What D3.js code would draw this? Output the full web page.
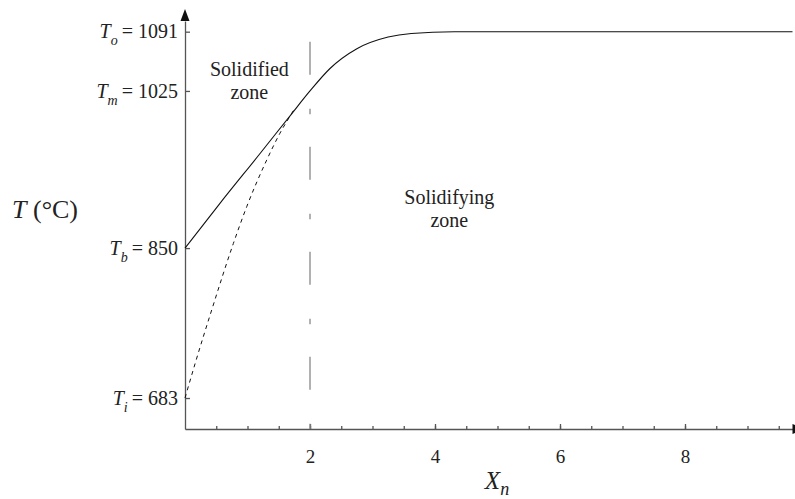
<!DOCTYPE html>
<html>
<head>
<meta charset="utf-8">
<script src="https://cdn.jsdelivr.net/npm/d3@7"></script>
<style>
  html, body { margin: 0; padding: 0; background: #fff; }
</style>
</head>
<body>
<svg id="chart" width="795" height="499"></svg>
<script>
// Temperature profile across the solidified / solidifying zones
const solidX = [0, 0.55, 1.22, 1.7, 2.0, 2.32, 2.75, 3.25, 3.62, 4.31, 9.72];
const solidT = [850, 899, 957, 999, 1025, 1050, 1072, 1085, 1089, 1091, 1091];

const dashX = [0, 0.16, 0.427, 0.773, 0.987, 1.307, 1.52, 1.707, 1.75];
const dashT = [683, 721, 781, 855, 896, 948, 978, 1000, 1005];

// Named temperature levels on the vertical axis
const levelNames = ["o", "m", "b", "i"];
const levelValues = [1091, 1025, 850, 683];

const xMajorTicks = [2, 4, 6, 8];
const xMinorTicks = d3.range(0.5, 9.6, 0.5);
const interfaceX = 2;

const zoneLabels = [
  { lines: ["Solidified", "zone"], x: 1.03, t: 1041.5 },
  { lines: ["Solidifying", "zone"], x: 4.23, t: 899 }
];

const FONT = "Liberation Serif";
const svg = d3.select("#chart");

const x = d3.scaleLinear().domain([0, 9.72]).range([185, 792.5]);
const y = d3.scaleLinear().domain([648.5, 1102.9]).range([429, 21]);

const axisColor = "#555";

// x axis: minor ticks, then major ticks with labels
const gxMinor = svg.append("g").attr("transform", `translate(0,${y.range()[0]})`)
  .call(d3.axisBottom(x).tickValues(xMinorTicks).tickSizeInner(-3).tickSizeOuter(0).tickFormat(""));
const gxMajor = svg.append("g").attr("transform", `translate(0,${y.range()[0]})`)
  .call(d3.axisBottom(x).tickValues(xMajorTicks).tickSizeInner(-5).tickSizeOuter(0).tickPadding(21).tickFormat(d3.format("d")));
gxMajor.select(".domain").remove();
[gxMinor, gxMajor].forEach(g => {
  g.selectAll("path, line").attr("stroke", axisColor).attr("stroke-width", 1.3);
  g.selectAll("text").style("font-family", FONT).style("font-size", "19px").attr("fill", "#222");
});

// y axis with inward ticks at the named levels
const gy = svg.append("g").attr("transform", `translate(${x.range()[0]},0)`)
  .call(d3.axisLeft(y).tickValues(levelValues).tickSizeInner(-5).tickSizeOuter(0).tickFormat(""));
gy.selectAll("path, line").attr("stroke", axisColor).attr("stroke-width", 1.3);

// Arrowheads at the axis ends
const yTop = y.range()[1];
svg.append("path")
  .attr("d", `M${x(0)},${yTop - 12} L${x(0) - 4.5},${yTop} L${x(0) + 4.5},${yTop} Z`)
  .attr("fill", "#111");
const xEnd = x.range()[1];
svg.append("path")
  .attr("d", `M${xEnd + 12},${y.range()[0]} L${xEnd},${y.range()[0] - 5} L${xEnd},${y.range()[0] + 5} Z`)
  .attr("fill", "#111");

// Level labels: T with subscript = value
levelValues.forEach((v, i) => {
  const t = svg.append("text").style("font-family", FONT).style("font-size", "20px")
    .attr("fill", "#222").attr("x", 178).attr("y", y(v) + 6.8).attr("text-anchor", "end");
  t.append("tspan").attr("font-style", "italic").text("T");
  t.append("tspan").attr("font-style", "italic").style("font-size", "14px").attr("dy", 7).text(levelNames[i]);
  t.append("tspan").attr("dy", -7).text("\u2009= " + v);
});

// Axis titles
const yTitle = svg.append("text").style("font-family", FONT).style("font-size", "26px")
  .attr("x", 12).attr("y", 218).attr("fill", "#222");
yTitle.append("tspan").attr("font-style", "italic").text("T");
yTitle.append("tspan").text(" (°C)");

const xTitle = svg.append("text").style("font-family", FONT).style("font-size", "25px")
  .attr("x", 497).attr("y", 489).attr("text-anchor", "middle").attr("fill", "#222");
xTitle.append("tspan").attr("font-style", "italic").text("X");
xTitle.append("tspan").attr("font-style", "italic").style("font-size", "18px").attr("dy", 6).text("n");

// Solid–liquid interface marker
svg.append("line")
  .attr("x1", x(interfaceX)).attr("x2", x(interfaceX))
  .attr("y1", 41.7).attr("y2", y.range()[0])
  .attr("stroke", "#888").attr("stroke-width", 1.3)
  .attr("stroke-dasharray", "33,34,5.5,32.5");

// Temperature curves
const line = d3.line().x(d => x(d[0])).y(d => y(d[1])).curve(d3.curveMonotoneX);
svg.append("path")
  .datum(solidX.map((v, i) => [v, solidT[i]]))
  .attr("d", line).attr("fill", "none").attr("stroke", "#111").attr("stroke-width", 1.1);
svg.append("path")
  .datum(dashX.map((v, i) => [v, dashT[i]]))
  .attr("d", line).attr("fill", "none").attr("stroke", "#111").attr("stroke-width", 1)
  .attr("stroke-dasharray", "4,4");

// Zone captions, one text per line
zoneLabels.forEach(z => {
  z.lines.forEach((s, i) => {
    svg.append("text").style("font-family", FONT).style("font-size", "20px")
      .attr("x", x(z.x)).attr("y", y(z.t) + i * 22.5).attr("text-anchor", "middle")
      .attr("fill", "#222").text(s);
  });
});
</script>
</body>
</html>
